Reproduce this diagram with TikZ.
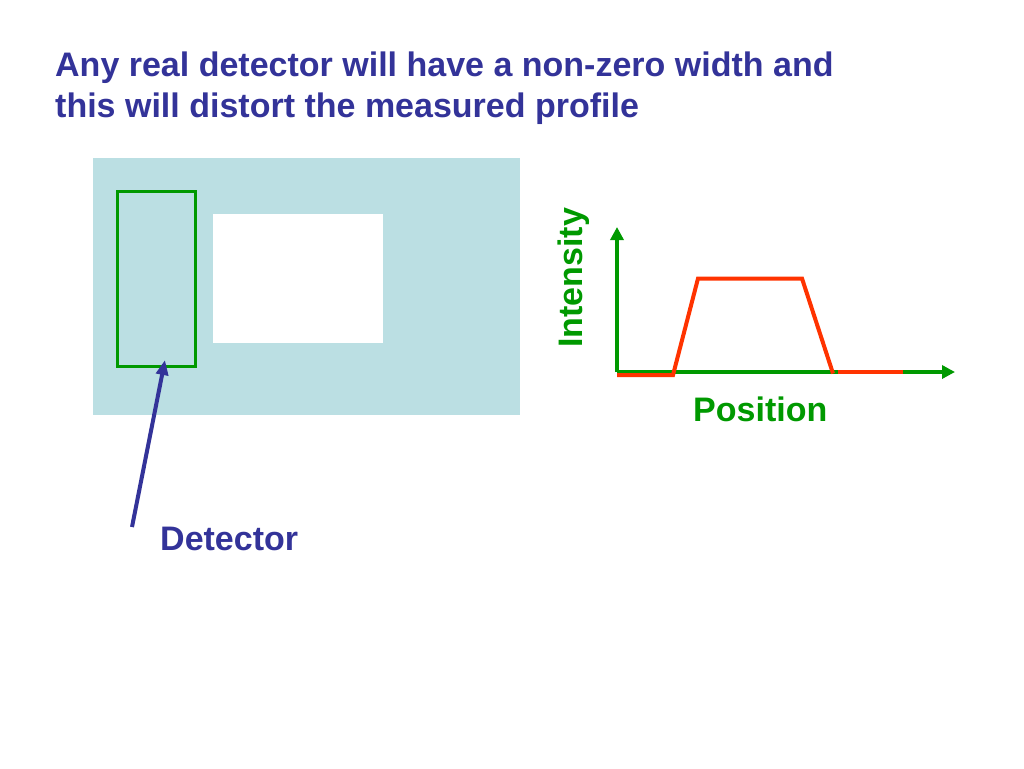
\documentclass[tikz,border=0pt]{standalone}
\usepackage{fontspec}
\setmainfont{Liberation Sans}
\usetikzlibrary{arrows.meta,positioning}

\definecolor{titleblue}{HTML}{333399}
\definecolor{paneblue}{HTML}{BBDFE3}
\definecolor{axisgreen}{HTML}{009900}
\definecolor{profilered}{HTML}{FF3300}

\begin{document}
\begin{tikzpicture}[x=1pt, y=-1pt, line cap=butt, line join=miter,
	bigtext/.style={font=\fontsize{34}{40}\selectfont\bfseries, inner sep=0pt},
	axis/.style={axisgreen, line width=3.5pt, -{Triangle[length=13pt,width=13pt]}},
	profile/.style={profilered, line width=4pt}]
	
	\useasboundingbox[fill=white] (0,0) rectangle (1024,768);
	
	% title
	\node[bigtext, titleblue, anchor=base west] (title1) at (55,77)
		{Any real detector will have a non-zero width and};
	\node[bigtext, titleblue, anchor=base west] (title2) at (55,117)
		{this will distort the measured profile};
	
	% Left: sample with detector
	\fill[paneblue] (93,158) rectangle (520,415);
	\fill[white] (213,214) rectangle (383,343);
	\node[draw=axisgreen, line width=3pt, minimum width=78pt, minimum height=175pt,
		inner sep=0pt] (det) at (156.5,279) {};
	
	\node[bigtext, titleblue, anchor=base west] (detlabel) at (160,550) {Detector};
	\coordinate (dettail) at (132,527);
	\coordinate (dettip) at (165,360);
	\draw[titleblue, line width=4pt, -{Triangle[length=15pt,width=12pt]}] (dettail) -- (dettip);
	
	% Right: measured profile
	\coordinate (O) at (617,372);
	\draw[axis] (O) -- (955,372);
	\draw[axis] (O) -- (617,227);
	\node[bigtext, axisgreen, rotate=90, anchor=base west] (ylabel) at (582,348) {Intensity};
	\node[bigtext, axisgreen, anchor=base west] (xlabel) at (693,421) {Position};
	
	\draw[profile] (617,375) -- (673,375) -- (698,278.5) -- (802,278.5) -- (833,373.5);
	\draw[profile] (838,371.5) -- (903,371.5);
	
\end{tikzpicture}
\end{document}
